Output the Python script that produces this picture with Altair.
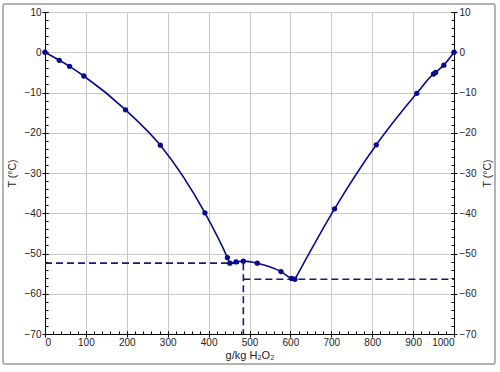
import altair as alt
import pandas as pd

# Liquidus data (g/kg H2O2, T in °C)
left_x = [0, 35, 60, 95, 197, 282, 391, 446, 452, 467, 485, 519, 577, 603, 611]
left_t = [0, -2.0, -3.5, -5.9, -14.3, -23.1, -39.9, -51.0, -52.4, -52.1, -51.9, -52.4, -54.5, -56.2, -56.4]
right_x = [611, 708, 810, 909, 950, 955, 975, 1000]
right_t = [-56.4, -38.9, -23.0, -10.2, -5.4, -5.0, -3.2, 0]

# Eutectic guide lines
guide_x = [0, 485, 485]
guide_x2 = [485, 485, 1000]
guide_y = [-52.4, -52.4, -56.4]
guide_y2 = [-52.4, -70, -56.4]

x_major = list(range(0, 1001, 100))
x_minor = list(range(0, 1001, 20))
y_major = list(range(-70, 11, 10))
y_minor = list(range(-70, 11, 2))

line_df = pd.DataFrame({
    "x": left_x + right_x,
    "t": left_t + right_t,
    "branch": ["ice"] * len(left_x) + ["h2o2"] * len(right_x),
    "order": list(range(len(left_x))) + list(range(len(right_x))),
})
pts_df = line_df.drop_duplicates(subset=["x", "t"])
guide_df = pd.DataFrame({"x": guide_x, "x2": guide_x2, "y": guide_y, "y2": guide_y2})

XD = [0, 1000]
YD = [-70, 10]
FONT = "Liberation Sans"
NAVY = "#0a0a8c"
GRID = "#c8c8c8"

xs = alt.Scale(domain=XD, nice=False, zero=False)
ys = alt.Scale(domain=YD, nice=False, zero=False)

lab = dict(labelColor="#222", labelFont=FONT, labelFontSize=10,
           titleFont=FONT, titleFontWeight="normal", titleColor="#222")

# Domain + labels + grid axes
x_dom = alt.Axis(values=x_major, orient="bottom", grid=True, gridColor=GRID, ticks=False,
                 tickSize=0, domainColor="black", labelPadding=3, format="d",
                 title="g/kg H₂O₂", titleY=21, titleBaseline="middle", titleFontSize=11, **lab)
yl_dom = alt.Axis(values=y_major, orient="left", grid=True, gridColor=GRID, ticks=False,
                  tickSize=0, domainColor="black", labelPadding=4,
                  title="T (°C)", titleX=-33, titleY=161, titleAngle=270, titleFontSize=10.5,
                  titleBaseline="middle", titleAlign="center", **lab)
yr_dom = alt.Axis(values=y_major, orient="right", grid=False, ticks=False,
                  tickSize=0, domainColor="black", labelPadding=5,
                  title="T (°C)", titleX=33, titleY=161, titleAngle=270, titleFontSize=10.5,
                  titleBaseline="middle", titleAlign="center", **lab)
# Major ticks (crossing the axis line)
x_maj = alt.Axis(values=x_major, orient="bottom", offset=-3, tickSize=6, tickColor="black",
                 domain=False, labels=False, grid=False, title=None)
yl_maj = alt.Axis(values=y_major, orient="left", offset=-3, tickSize=6, tickColor="black",
                  domain=False, labels=False, grid=False, title=None)
yr_maj = alt.Axis(values=y_major, orient="right", offset=-3, tickSize=6, tickColor="black",
                  domain=False, labels=False, grid=False, title=None)
# Minor ticks (inside)
x_min = alt.Axis(values=x_minor, orient="bottom", offset=-3, tickSize=3, tickColor="black",
                 domain=False, labels=False, grid=False, title=None)
yl_min = alt.Axis(values=y_minor, orient="left", offset=-3, tickSize=3, tickColor="black",
                  domain=False, labels=False, grid=False, title=None)
yr_min = alt.Axis(values=y_minor, orient="right", offset=-3, tickSize=3, tickColor="black",
                  domain=False, labels=False, grid=False, title=None)

guides = alt.Chart(guide_df).mark_rule(
    color="#1a1a7a", strokeDash=[7, 4], strokeWidth=1.6
).encode(
    x=alt.X("x:Q", scale=xs, axis=x_dom),
    x2="x2:Q",
    y=alt.Y("y:Q", scale=ys, axis=yl_dom),
    y2="y2:Q",
)

def ghost(xaxis, yaxis):
    return alt.Chart(pts_df).mark_point(opacity=0).encode(
        x=alt.X("x:Q", scale=xs, axis=xaxis),
        y=alt.Y("t:Q", scale=ys, axis=yaxis),
    )

g1 = ghost(x_maj, yl_maj)
g2 = ghost(x_min, yl_min)
g3 = ghost(None, yr_maj)
g4 = ghost(None, yr_min)

line = alt.Chart(line_df).mark_line(
    color=NAVY, strokeWidth=1.6, interpolate="monotone"
).encode(
    x=alt.X("x:Q", scale=xs, axis=None),
    y=alt.Y("t:Q", scale=ys, axis=yr_dom),
    detail="branch:N",
    order="order:Q",
)

points = alt.Chart(pts_df).mark_circle(color=NAVY, size=28, opacity=1).encode(
    x=alt.X("x:Q", scale=xs, axis=None),
    y=alt.Y("t:Q", scale=ys, axis=None),
)

frame = alt.Chart(pd.DataFrame({"a": [0]})).mark_rect(
    fill=None, stroke="#9a9a9a", strokeWidth=1.5, cornerRadius=2
).encode(
    x=alt.value(-42), x2=alt.value(450), y=alt.value(-8), y2=alt.value(352)
)

chart = alt.layer(guides, g1, g2, g3, g4, line, points, frame).resolve_axis(
    x="independent", y="independent"
).properties(
    width=409, height=322,
    padding={"left": 45, "top": 12, "right": 46, "bottom": 38},
    autosize=alt.AutoSizeParams(type="none"),
    background="white",
).configure_view(strokeWidth=0)

chart.save("out.html", embed_options={"renderer": "svg", "actions": False})
